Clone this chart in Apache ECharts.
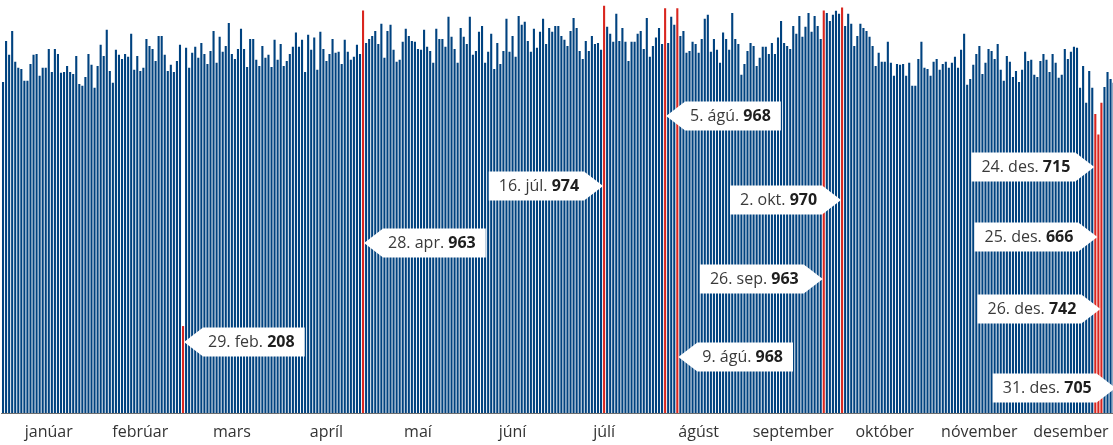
<!DOCTYPE html>
<html>
<head>
<meta charset="utf-8">
<script src="https://cdn.jsdelivr.net/npm/echarts@6/dist/echarts.min.js"></script>
<style>
  html, body { margin: 0; padding: 0; background: #fff; }
  #chart { width: 1113px; height: 445px; }
</style>
</head>
<body>
<div id="chart"></div>
<script>
const monthNames = ['janúar', 'febrúar', 'mars', 'apríl', 'maí', 'júní', 'júlí', 'ágúst', 'september', 'október', 'nóvember', 'desember'];

// daily values
const jan = [792, 890, 857, 914, 840, 826, 823, 795, 795, 835, 857, 859, 807, 826, 826, 871, 816, 871, 859, 814, 816, 830, 816, 811, 854, 787, 783, 804, 859, 833, 778];
const feb = [830, 881, 854, 917, 818, 790, 869, 857, 847, 859, 852, 907, 821, 854, 818, 826, 895, 878, 871, 842, 902, 902, 857, 818, 833, 816, 842, 881, 208];
const mar = [874, 826, 862, 876, 850, 885, 859, 835, 866, 914, 838, 900, 864, 878, 933, 859, 847, 871, 919, 871, 828, 895, 895, 845, 830, 878, 850, 857, 828, 893, 845];
const apr = [883, 830, 842, 859, 876, 910, 876, 893, 816, 905, 869, 898, 821, 912, 871, 842, 859, 895, 862, 864, 835, 893, 864, 845, 852, 881, 859, 963, 885, 895];
const may = [902, 914, 883, 931, 850, 914, 929, 869, 840, 845, 888, 919, 902, 890, 888, 871, 869, 917, 876, 866, 838, 919, 895, 895, 876, 948, 900, 871, 838, 921, 900];
const jun = [883, 948, 857, 866, 912, 926, 838, 864, 907, 823, 885, 835, 866, 943, 864, 902, 852, 950, 929, 936, 890, 864, 919, 874, 912, 943, 883, 921, 912, 926];
const jul = [926, 902, 893, 878, 914, 945, 921, 866, 847, 890, 866, 902, 883, 885, 869, 974, 924, 907, 888, 955, 890, 921, 888, 842, 888, 888, 907, 914, 871, 945, 852];
const aug = [878, 898, 921, 883, 968, 885, 948, 929, 968, 902, 914, 862, 866, 888, 883, 862, 895, 943, 953, 864, 895, 869, 838, 910, 895, 869, 957, 895, 883, 809, 835];
const sep = [866, 885, 878, 830, 850, 876, 876, 859, 885, 859, 898, 938, 885, 878, 871, 926, 907, 950, 900, 924, 957, 912, 950, 926, 895, 963, 957, 938, 953, 962];
const oct = [955, 970, 926, 955, 931, 878, 902, 931, 921, 914, 900, 878, 830, 862, 840, 840, 888, 838, 807, 835, 833, 835, 807, 838, 783, 783, 847, 888, 826, 823, 807];
const nov = [840, 847, 821, 835, 840, 826, 838, 852, 826, 869, 907, 785, 799, 833, 859, 878, 811, 838, 871, 866, 847, 883, 821, 795, 854, 840, 804, 818, 792, 821];
const dec = [864, 842, 845, 809, 804, 842, 859, 845, 816, 859, 838, 802, 809, 871, 847, 864, 876, 874, 778, 830, 742, 818, 778, 715, 666, 742, 780, 816, 799, 790, 705];

// highlighted days: month index, day of month, callout label
const highlights = [
  { month: 1, date: 29, label: '29. feb.' },
  { month: 3, date: 28, label: '28. apr.' },
  { month: 6, date: 16, label: '16. júl.' },
  { month: 7, date: 5, label: '5. ágú.' },
  { month: 7, date: 9, label: '9. ágú.' },
  { month: 8, date: 26, label: '26. sep.' },
  { month: 9, date: 2, label: '2. okt.' },
  { month: 11, date: 24, label: '24. des.' },
  { month: 11, date: 25, label: '25. des.' },
  { month: 11, date: 26, label: '26. des.' },
  { month: 11, date: 31, label: '31. des.' },
];

// callout placement (arrow direction, vertical centre in px), same order as highlights
const calloutLayout = [
  { side: 'left', y: 342 },
  { side: 'left', y: 243 },
  { side: 'right', y: 186 },
  { side: 'left', y: 116 },
  { side: 'left', y: 357 },
  { side: 'right', y: 279 },
  { side: 'right', y: 200 },
  { side: 'right', y: 167 },
  { side: 'right', y: 237 },
  { side: 'right', y: 309 },
  { side: 'right', y: 388 },
];

const BLUE = '#00427f';
const RED = '#d9261f';
const FONT = '"Open Sans", sans-serif';

const months = [jan, feb, mar, apr, may, jun, jul, aug, sep, oct, nov, dec];
const monthStarts = [];
let acc = 0;
months.forEach((m) => {
  monthStarts.push(acc);
  acc += m.length;
});
const labelIdx = months.map((m, k) => monthStarts[k] + Math.floor(m.length / 2));
const values = [].concat(...months);
const days = [];
months.forEach((m, k) => m.forEach((_, d) => days.push(`${d + 1}. ${monthNames[k]}`)));
const highlightIdx = highlights.map((h) => monthStarts[h.month] + h.date - 1);

const barData = values.map((v, i) =>
  highlightIdx.includes(i) ? { value: v, itemStyle: { color: RED } } : v
);

const chart = echarts.init(document.getElementById('chart'));

chart.setOption({
  animation: false,
  grid: { left: 1.5, right: -5.2, top: 0, bottom: 32, containLabel: false, outerBoundsMode: 'none' },
  xAxis: {
    type: 'category',
    data: days,
    boundaryGap: true,
    axisLine: { lineStyle: { color: '#6e6e6e', width: 1 } },
    axisTick: {
      length: 5,
      interval: (i) => monthStarts.includes(i),
      lineStyle: { color: '#6e6e6e' },
    },
    axisLabel: {
      interval: (i) => labelIdx.includes(i),
      formatter: (v, i) => monthNames[labelIdx.indexOf(i)],
      color: '#333',
      fontFamily: FONT,
      fontSize: 16,
      margin: 11,
    },
  },
  yAxis: { type: 'value', min: 0, max: 988, show: false },
  series: [
    {
      type: 'bar',
      data: barData,
      barWidth: 2.1,
      itemStyle: { color: BLUE },
      silent: true,
    },
  ],
});

// callouts
const ctx = document.createElement('canvas').getContext('2d');
const textWidth = (t, font) => {
  ctx.font = font;
  return ctx.measureText(t).width;
};

const elements = [];
highlights.forEach((h, k) => {
  const lay = calloutLayout[k];
  const idx = highlightIdx[k];
  const xBar = chart.convertToPixel({ xAxisIndex: 0 }, idx);
  const valText = String(values[idx]);
  const w = textWidth(`${h.label} `, `16px ${FONT}`) + textWidth(valText, `bold 16px ${FONT}`);
  const cy = lay.y;
  const half = 14.5;
  const arrow = 19;
  const nearPad = 5;
  const farPad = 10;
  let pts;
  let textX;
  if (lay.side === 'left') {
    const tip = xBar + 1;
    const base = tip + arrow;
    const right = base + nearPad + w + farPad;
    pts = [[tip, cy], [base, cy - half], [right, cy - half], [right, cy + half], [base, cy + half]];
    textX = base + nearPad;
  } else {
    const tip = xBar - 1;
    const base = tip - arrow;
    const left = base - nearPad - w - farPad;
    pts = [[left, cy - half], [base, cy - half], [tip, cy], [base, cy + half], [left, cy + half]];
    textX = left + farPad;
  }
  elements.push({
    type: 'polygon',
    shape: { points: pts },
    style: { fill: '#fff' },
    z: 10,
    silent: true,
  });
  elements.push({
    type: 'text',
    x: textX,
    y: cy,
    z: 11,
    silent: true,
    style: {
      text: `{n|${h.label}} {b|${valText}}`,
      font: `16px ${FONT}`,
      verticalAlign: 'middle',
      align: 'left',
      fill: '#3a3a3a',
      rich: {
        n: { fontSize: 16, fontFamily: FONT, fill: '#3a3a3a', color: '#3a3a3a' },
        b: { fontSize: 16, fontFamily: FONT, fontWeight: 'bold', fill: '#1e1e1e', color: '#1e1e1e' },
      },
    },
  });
});

chart.setOption({ graphic: { elements } });
</script>
</body>
</html>
